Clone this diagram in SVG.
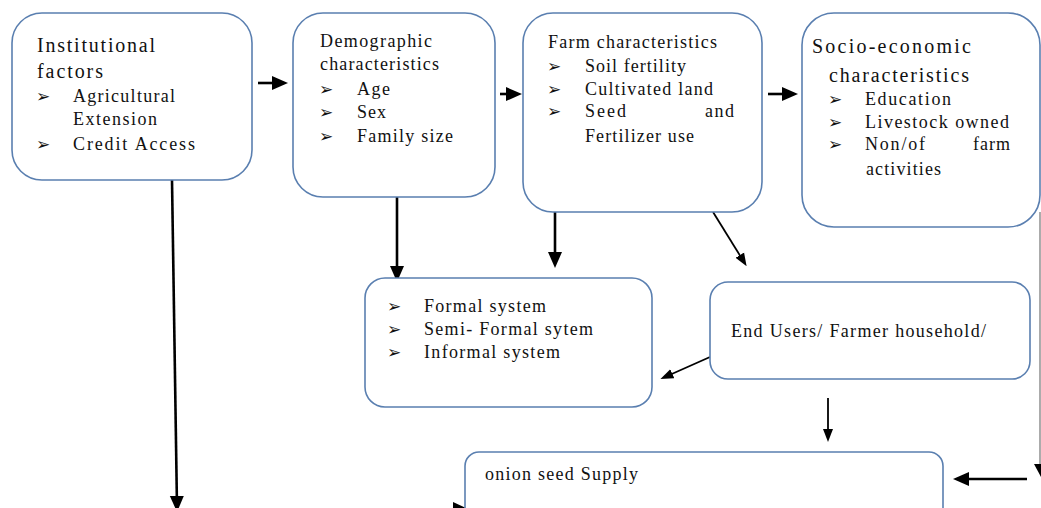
<svg xmlns="http://www.w3.org/2000/svg" width="1041" height="508" viewBox="0 0 1041 508">
<style>
.box{fill:#fff;stroke:#5a7fb0;stroke-width:1.6}
.t{font-family:"Liberation Serif","Times New Roman",serif;font-size:18px;fill:#111}
.h{font-size:20px}
.b{font-family:"DejaVu Sans",sans-serif;font-size:17px;fill:#111}
.thick{stroke:#000;stroke-width:2.6;fill:none}
.thin{stroke:#000;stroke-width:1.8;fill:none}
</style>
<defs>
<marker id="big" markerUnits="userSpaceOnUse" markerWidth="16" markerHeight="16" refX="11" refY="8" orient="auto">
<path d="M0,1 L16,8 L0,15 z" fill="#000"/>
</marker>
<marker id="small" markerUnits="userSpaceOnUse" markerWidth="13" markerHeight="12" refX="8" refY="6" orient="auto">
<path d="M0,1 L13,6 L0,11 z" fill="#000"/>
</marker>
</defs>
<rect width="1041" height="508" fill="#fff"/>

<g id="connectors">
<line class="thick" x1="258" y1="83" x2="283" y2="83" marker-end="url(#big)"/>
<line class="thick" x1="500" y1="94" x2="517" y2="94" marker-end="url(#big)"/>
<line class="thick" x1="768" y1="94" x2="793" y2="94" marker-end="url(#big)"/>
<line class="thick" x1="397" y1="193" x2="397" y2="277" marker-end="url(#big)"/>
<line class="thick" x1="555" y1="212" x2="555" y2="263" marker-end="url(#big)"/>
<line class="thin" x1="713" y1="212" x2="744" y2="262" marker-end="url(#small)"/>
<line class="thin" x1="710" y1="357" x2="665" y2="377" marker-end="url(#small)"/>
<line class="thin" x1="828" y1="398" x2="828" y2="437" marker-end="url(#small)"/>
<line class="thick" x1="172" y1="180" x2="177" y2="507" marker-end="url(#big)"/>
<line class="thick" x1="1027" y1="479" x2="958" y2="479" marker-end="url(#big)"/>
<line x1="1040" y1="212" x2="1040" y2="466" stroke="#888" stroke-width="1.4"/>
<path d="M1034,464 L1041,464 L1041,477 z" fill="#000"/>
<path d="M453,502 L466,508 L453,508 z" fill="#000"/>
</g>

<g id="n1">
<rect class="box" x="12" y="13" width="240" height="167" rx="30"/>
<text class="t h" x="37" y="52" textLength="118" lengthAdjust="spacing">Institutional</text>
<text class="t h" x="37" y="78" textLength="66" lengthAdjust="spacing">factors</text>
<text class="b" x="36" y="102">➢</text>
<text class="t" x="73" y="102" textLength="102" lengthAdjust="spacing">Agricultural</text>
<text class="t" x="73" y="125" textLength="84" lengthAdjust="spacing">Extension</text>
<text class="b" x="36" y="150">➢</text>
<text class="t" x="73" y="150" textLength="122" lengthAdjust="spacing">Credit Access</text>
</g>

<g id="n2">
<rect class="box" x="293" y="13" width="202" height="184" rx="30"/>
<text class="t" x="320" y="47" textLength="112" lengthAdjust="spacing">Demographic</text>
<text class="t" x="320" y="70" textLength="119" lengthAdjust="spacing">characteristics</text>
<text class="b" x="319" y="95">➢</text>
<text class="t" x="357" y="95" textLength="33" lengthAdjust="spacing">Age</text>
<text class="b" x="319" y="118">➢</text>
<text class="t" x="357" y="118" textLength="29" lengthAdjust="spacing">Sex</text>
<text class="b" x="319" y="142">➢</text>
<text class="t" x="357" y="142" textLength="96" lengthAdjust="spacing">Family size</text>
</g>

<g id="n3">
<rect class="box" x="523" y="13" width="239" height="199" rx="30"/>
<text class="t" x="548" y="48" textLength="169" lengthAdjust="spacing">Farm characteristics</text>
<text class="b" x="547" y="72">➢</text>
<text class="t" x="585" y="72" textLength="101" lengthAdjust="spacing">Soil fertility</text>
<text class="b" x="547" y="95">➢</text>
<text class="t" x="585" y="95" textLength="128" lengthAdjust="spacing">Cultivated land</text>
<text class="b" x="547" y="117">➢</text>
<text class="t" x="585" y="117" textLength="41" lengthAdjust="spacing">Seed</text>
<text class="t" x="705" y="117" textLength="29" lengthAdjust="spacing">and</text>
<text class="t" x="585" y="142" textLength="109" lengthAdjust="spacing">Fertilizer use</text>
</g>

<g id="n4">
<rect class="box" x="802" y="13" width="238" height="214" rx="32"/>
<text class="t h" x="812" y="53" textLength="159" lengthAdjust="spacing">Socio-economic</text>
<text class="t h" x="829" y="82" textLength="140" lengthAdjust="spacing">characteristics</text>
<text class="b" x="828" y="105">➢</text>
<text class="t" x="865" y="105" textLength="86" lengthAdjust="spacing">Education</text>
<text class="b" x="828" y="128">➢</text>
<text class="t" x="865" y="128" textLength="144" lengthAdjust="spacing">Livestock owned</text>
<text class="b" x="828" y="150">➢</text>
<text class="t" x="865" y="150" textLength="60" lengthAdjust="spacing">Non/of</text>
<text class="t" x="973" y="150" textLength="37" lengthAdjust="spacing">farm</text>
<text class="t" x="866" y="175" textLength="75" lengthAdjust="spacing">activities</text>
</g>

<g id="n5">
<rect class="box" x="365" y="278" width="287" height="129" rx="20"/>
<text class="b" x="387" y="312">➢</text>
<text class="t" x="424" y="312" textLength="122" lengthAdjust="spacing">Formal system</text>
<text class="b" x="387" y="335">➢</text>
<text class="t" x="424" y="335" textLength="169" lengthAdjust="spacing">Semi- Formal sytem</text>
<text class="b" x="387" y="358">➢</text>
<text class="t" x="424" y="358" textLength="136" lengthAdjust="spacing">Informal system</text>
</g>

<g id="n6">
<rect class="box" x="710" y="282" width="320" height="97" rx="18"/>
<text class="t" x="731" y="337" textLength="255" lengthAdjust="spacing">End Users/ Farmer household/</text>
</g>

<g id="n7">
<rect class="box" x="465" y="452" width="478" height="80" rx="14"/>
<text class="t" x="485" y="480" textLength="153" lengthAdjust="spacing">onion seed Supply</text>
</g>
</svg>
